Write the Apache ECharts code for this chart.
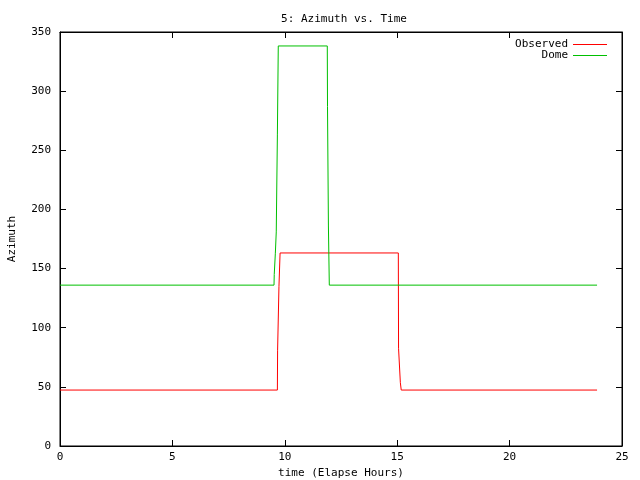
<!DOCTYPE html>
<html>
<head>
<meta charset="utf-8">
<script src="https://cdn.jsdelivr.net/npm/echarts@6/dist/echarts.min.js"></script>
<style>html,body{margin:0;padding:0;background:#fff}#c{width:640px;height:480px}</style>
</head>
<body>
<div id="c"></div>
<script>
const titleText = "5: Azimuth vs. Time";
const xName = "time (Elapse Hours)";
const yName = "Azimuth";
const seriesNames = ["Observed", "Dome"];
const xTicks = [0, 5, 10, 15, 20, 25];
const yTicks = [0, 50, 100, 150, 200, 250, 300, 350];

// Observed (red)
const obsTime = [0, 9.67, 9.68, 9.74, 9.79, 15.05, 15.06, 15.14, 15.18, 23.89];
const obsAz   = [47.3, 47.3, 81, 135, 163.2, 163.2, 82.6, 53.5, 47.3, 47.3];

// Dome (green)
const domeTime = [0, 9.52, 9.53, 9.58, 9.62, 9.67, 9.71, 11.89, 11.90, 11.94, 11.98, 23.89];
const domeAz   = [136, 136, 145, 163, 181, 263, 338.2, 338.2, 287, 186, 136, 136];

const FONT = "DejaVu Sans Mono";
const FS = 11;
const pairs = (xs, ys) => xs.map((x, i) => [x, ys[i]]);

const chart = echarts.init(document.getElementById('c'), null, {renderer: 'canvas'});
const tickStyle = {show: true, inside: true, length: 6, lineStyle: {color: '#000', width: 1}};
const axisLine = {show: true, onZero: false, lineStyle: {color: '#000', width: 1}};
chart.setOption({
  animation: false,
  backgroundColor: '#fff',
  title: {
    text: titleText, left: 339, top: 9, textAlign: 'center',
    textStyle: {fontFamily: FONT, fontSize: FS, fontWeight: 'normal', color: '#000'}
  },
  legend: [
    {data: [seriesNames[0]], right: 28, top: 34, align: 'right', icon: 'rect', itemWidth: 34, itemHeight: 1,
     textStyle: {fontFamily: FONT, fontSize: FS, color: '#000'}},
    {data: [seriesNames[1]], right: 28, top: 45, align: 'right', icon: 'rect', itemWidth: 34, itemHeight: 1,
     textStyle: {fontFamily: FONT, fontSize: FS, color: '#000'}}
  ],
  grid: {left: 60, right: 18, top: 32, bottom: 34, show: true, borderColor: '#000', borderWidth: 1,
         containLabel: false, outerBoundsMode: 'none'},
  xAxis: [
    {type: 'value', position: 'bottom', min: xTicks[0], max: xTicks[xTicks.length - 1], interval: 5,
     name: xName, nameLocation: 'middle', nameGap: 20,
     nameTextStyle: {fontFamily: FONT, fontSize: FS, color: '#000'},
     axisLine: axisLine, axisTick: tickStyle, splitLine: {show: false},
     axisLabel: {fontFamily: FONT, fontSize: FS, color: '#000', margin: 6}},
    {type: 'value', position: 'top', min: xTicks[0], max: xTicks[xTicks.length - 1], interval: 5,
     axisLine: axisLine, axisTick: tickStyle, splitLine: {show: false}, axisLabel: {show: false}}
  ],
  yAxis: [
    {type: 'value', position: 'left', min: yTicks[0], max: yTicks[yTicks.length - 1], interval: 50,
     name: yName, nameLocation: 'middle', nameGap: 42, nameRotate: 90,
     nameTextStyle: {fontFamily: FONT, fontSize: FS, color: '#000'},
     axisLine: axisLine, axisTick: tickStyle, splitLine: {show: false},
     axisLabel: {fontFamily: FONT, fontSize: FS, color: '#000', margin: 9}},
    {type: 'value', position: 'right', min: yTicks[0], max: yTicks[yTicks.length - 1], interval: 50,
     axisLine: axisLine, axisTick: tickStyle, splitLine: {show: false}, axisLabel: {show: false}}
  ],
  series: [
    {name: seriesNames[0], type: 'line', data: pairs(obsTime, obsAz), showSymbol: false, symbol: 'none',
     xAxisIndex: 0, yAxisIndex: 0, color: '#ff0000', lineStyle: {color: '#ff0000', width: 1}},
    {name: seriesNames[1], type: 'line', data: pairs(domeTime, domeAz), showSymbol: false, symbol: 'none',
     xAxisIndex: 0, yAxisIndex: 0, color: '#00c000', lineStyle: {color: '#00c000', width: 1}}
  ]
});
</script>
</body>
</html>
